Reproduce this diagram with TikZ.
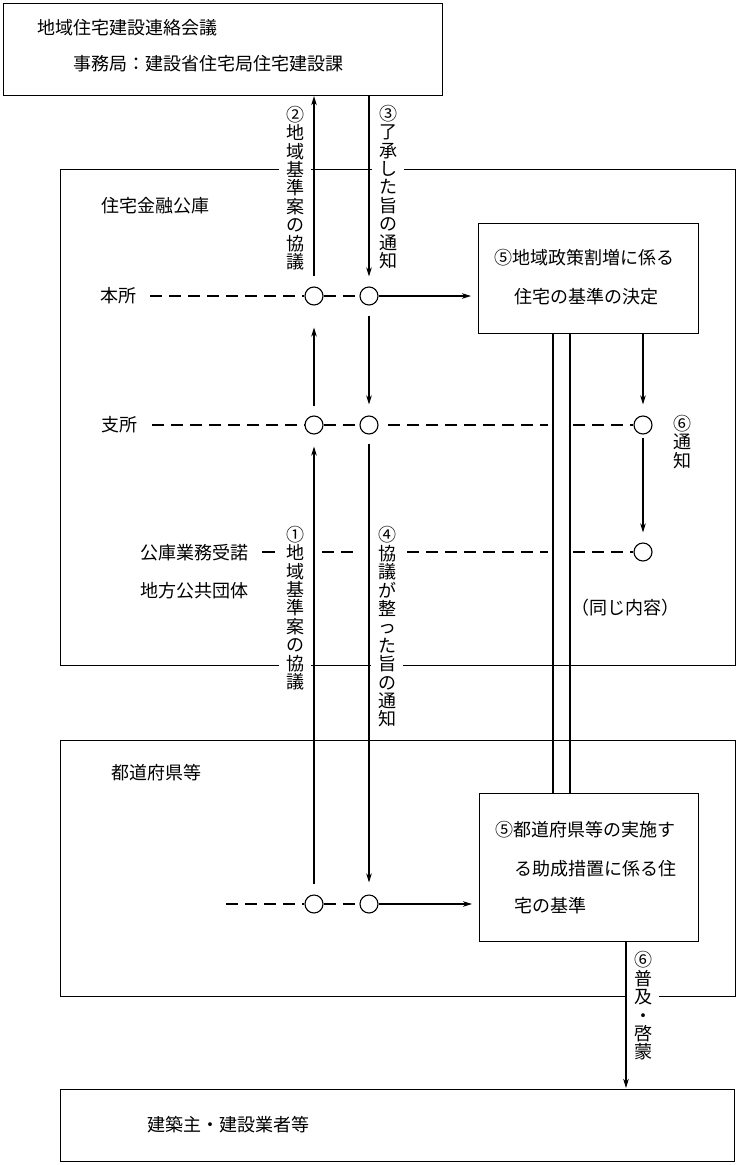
\documentclass[tikz,border=0pt]{standalone}
\usepackage{fontspec}
\setmainfont{Noto Sans CJK JP}
\usetikzlibrary{arrows.meta,calc}
\tikzset{
  every picture/.style={line width=1.1pt},
  boxnode/.style={draw, line width=1.1pt, anchor=north west, inner sep=0pt},
  txt/.style={anchor=west, inner sep=0pt, font=\fontsize{18}{18.4}\selectfont},
  vlab/.style={fill=white, inner xsep=7pt, inner ysep=1pt, align=center, font=\fontsize{18}{18.4}\selectfont},
  cnode/.style={draw, circle, fill=white, minimum size=18pt, inner sep=0pt, line width=1.1pt},
  arr/.style={-{Stealth[length=9pt,width=5.5pt,inset=2.5pt]}},
  dsh/.style={dash pattern=on 12pt off 7pt},
}
\begin{document}
\begin{tikzpicture}[x=1pt,y=-1pt]
\fill[white] (0,0) rectangle (739,1165);
\useasboundingbox (0,0) rectangle (739,1165);

% boxes
\node[boxnode, minimum width=439pt, minimum height=92pt] (top) at (3,3) {};
\node[boxnode, minimum width=675pt, minimum height=496pt] (koko) at (60,169) {};
\node[boxnode, minimum width=675pt, minimum height=256pt] (todo) at (60,740) {};
\node[boxnode, minimum width=674pt, minimum height=72pt] (bottom) at (60,1089) {};
\node[boxnode, minimum width=220pt, minimum height=110pt] (b5a) at (478,223) {};
\node[boxnode, minimum width=219pt, minimum height=148pt] (b5b) at (479,793) {};

% texts
\node[txt] (t1) at (37,28) {地域住宅建設連絡会議};
\node[txt] (t2) at (73,64) {事務局：建設省住宅局住宅建設課};
\node[txt] (t3) at (101,206) {住宅金融公庫};
\node[txt] (t4) at (100,296) {本所};
\node[txt] (t5) at (101,425) {支所};
\node[txt] (t6) at (140,553) {公庫業務受諾};
\node[txt] (t7) at (140,591) {地方公共団体};
\node[txt, anchor=center] (t8) at (625,608) {（同じ内容）};
\node[txt] (t9) at (111,773) {都道府県等};
\node[txt] (t10) at (147,1125) {建築主・建設業者等};
\node[txt] (a1) at (494,258) {⑤地域政策割増に係る};
\node[txt] (a2) at (514,297) {住宅の基準の決定};
\node[txt] (b1) at (495,830) {⑤都道府県等の実施す};
\node[txt] (b2) at (514,869) {る助成措置に係る住};
\node[txt] (b3) at (514,906) {宅の基準};

% vertical labels
\node[vlab] (L2) at (295,188) {②\\地\\域\\基\\準\\案\\の\\協\\議};
\node[vlab] (L3) at (388,187) {③\\了\\承\\し\\た\\旨\\の\\通\\知};
\node[vlab] (L1) at (295,608) {①\\地\\域\\基\\準\\案\\の\\協\\議};
\node[vlab] (L4) at (387,627) {④\\協\\議\\が\\整\\っ\\た\\旨\\の\\通\\知};
\node[vlab] (L6a) at (682,442) {⑥\\通\\知};
\node[vlab] (L6b) at (643,1006) {⑥\\普\\及\\・\\啓\\蒙};

% circles
\node[cnode] (c1) at (314,296) {};
\node[cnode] (c2) at (369,296) {};
\node[cnode] (c3) at (314,425) {};
\node[cnode] (c4) at (369,425) {};
\node[cnode] (c5) at (314,904) {};
\node[cnode] (c6) at (369,904) {};
\node[cnode] (c7) at (643,425) {};
\node[cnode] (c8) at (643,552) {};

% helper coordinates
\coordinate (dl1) at (553,0);
\coordinate (dl2) at (570,0);
\coordinate (bx) at (626,0);
\coordinate (r1s) at (150,296);
\coordinate (r2s) at (152,425);
\coordinate (r2a) at (388,425);
\coordinate (r2b) at (548,425);
\coordinate (r2c) at (573,425);
\coordinate (r3a) at (262,552);
\coordinate (r3b) at (275,552);
\coordinate (r3c) at (322,552);
\coordinate (r3d) at (358,552);
\coordinate (r3e) at (407,552);
\coordinate (r3f) at (548,552);
\coordinate (r3g) at (573,552);
\coordinate (r4s) at (226,904);

% dashed rows
\draw[dsh] (r1s) -- (c1);
\draw[dsh] (c1) -- (c2);
\draw[dsh] (r2s) -- (c3);
\draw[dsh] (c3) -- (c4);
\draw[dsh] (r2a) -- (r2b);
\draw[dsh] (r2c) -- (c7);
\draw (r3a) -- (r3b);
\draw[dsh] (r3c) -- (r3d);
\draw[dsh] (r3e) -- (r3f);
\draw[dsh] (r3g) -- (c8);
\draw[dsh] (r4s) -- (c5);
\draw[dsh] (c5) -- (c6);

% arrows
\draw[arr, shorten <=10pt] (c1) -- (top.south -| c1);
\draw[arr, shorten >=10pt] (top.south -| c2) -- (c2);
\draw[arr, shorten <=9pt, shorten >=22pt] (c3) -- (c1);
\draw[arr, shorten <=10pt, shorten >=11pt] (c2) -- (c4);
\draw[arr, shorten <=10pt, shorten >=12pt] (c5) -- (c3);
\draw[arr, shorten <=9pt, shorten >=12pt] (c4) -- (c6);
\draw[arr, shorten >=7pt] (c2) -- (b5a.west |- c2);
\draw[arr, shorten >=7pt] (c6) -- (b5b.west |- c6);
\draw[arr, shorten >=11pt] (b5a.south -| c7) -- (c7);
\draw[arr, shorten <=3pt, shorten >=10pt] (c7) -- (c8);
\draw[arr, shorten >=1pt] (b5b.south -| bx) -- (bottom.north -| bx);

% double lines
\draw (b5a.south -| dl1) -- (b5b.north -| dl1);
\draw (b5a.south -| dl2) -- (b5b.north -| dl2);
\end{tikzpicture}
\end{document}
